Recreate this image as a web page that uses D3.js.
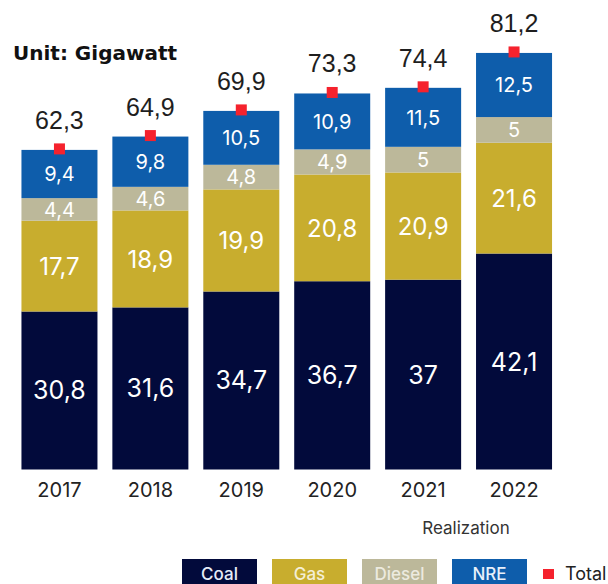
<!DOCTYPE html>
<html lang="en">
<head>
    <meta charset="UTF-8">
    <title>Installed capacity by source</title>
    <script src="https://d3js.org/d3.v7.min.js"></script>
    <style>
        body {
            margin: 0;
            background: #fff;
        }
        svg {
            font-family: Inter, "Open Sans", sans-serif;
        }
    </style>
</head>
<body>
    <script>
        // Data (Gigawatt)
        const years = ["2017", "2018", "2019", "2020", "2021", "2022"];
        const coal = [30.8, 31.6, 34.7, 36.7, 37, 42.1];
        const gas = [17.7, 18.9, 19.9, 20.8, 20.9, 21.6];
        const diesel = [4.4, 4.6, 4.8, 4.9, 5, 5];
        const nre = [9.4, 9.8, 10.5, 10.9, 11.5, 12.5];
        const totals = [62.3, 64.9, 69.9, 73.3, 74.4, 81.2];
        const seriesNames = ["Coal", "Gas", "Diesel", "NRE"];

        const width = 608, height = 584;

        const colors = {
            Coal: "#020a3b",
            Gas: "#c8ad2e",
            Diesel: "#bcb89a",
            NRE: "#0e5dab"
        };
        const labelSize = { Coal: 25, Gas: 24, Diesel: 20, NRE: 20 };
        const legendText = { Coal: "#e6ecf8", Gas: "#f4efd6", Diesel: "#eceadf", NRE: "#e8f0fa" };

        const rows = years.map((y, i) => ({
            year: y,
            Coal: coal[i], Gas: gas[i], Diesel: diesel[i], NRE: nre[i],
            total: totals[i]
        }));

        const locale = d3.formatLocale({ decimal: ",", thousands: ".", grouping: [3], currency: ["", ""] });
        const fmt = locale.format(".1~f");

        const svg = d3.select("body")
            .append("svg")
            .attr("width", width)
            .attr("height", height);

        const x = d3.scaleBand()
            .domain(years)
            .range([14, 559.5])
            .paddingInner(0.164)
            .paddingOuter(0.082);

        const y = d3.scaleLinear()
            .domain([0, 90])
            .range([469.5, 469.5 - 90 * 5.13]);

        const stacked = d3.stack().keys(seriesNames)(rows);

        // stacked bars
        const layers = svg.append("g")
            .selectAll("g")
            .data(stacked)
            .join("g")
            .attr("fill", d => colors[d.key]);

        layers.selectAll("rect")
            .data(d => d)
            .join("rect")
            .attr("x", d => x(d.data.year))
            .attr("width", x.bandwidth())
            .attr("y", d => y(d[1]))
            .attr("height", d => y(d[0]) - y(d[1]));

        // value labels inside segments
        svg.append("g")
            .selectAll("g")
            .data(stacked)
            .join("g")
            .attr("font-size", d => labelSize[d.key] + "px")
            .attr("fill", "#fff")
            .attr("text-anchor", "middle")
            .selectAll("text")
            .data(d => d)
            .join("text")
            .attr("x", d => x(d.data.year) + x.bandwidth() / 2)
            .attr("y", d => (y(d[0]) + y(d[1])) / 2)
            .attr("dy", "0.36em")
            .text(d => fmt(d[1] - d[0]));

        // total markers
        svg.append("g")
            .selectAll("rect")
            .data(rows)
            .join("rect")
            .attr("x", d => x(d.year) + x.bandwidth() / 2 - 5.5)
            .attr("y", d => y(d.total) - 6.5)
            .attr("width", 11)
            .attr("height", 11)
            .attr("fill", "#f5222d");

        svg.append("g")
            .attr("font-family", "'Liberation Sans', Arial, sans-serif")
            .attr("font-size", "25px")
            .attr("fill", "#1e1e1e")
            .attr("text-anchor", "middle")
            .selectAll("text")
            .data(rows)
            .join("text")
            .attr("x", d => x(d.year) + x.bandwidth() / 2)
            .attr("y", d => y(d.total) - 21)
            .text(d => fmt(d.total));

        // x axis labels
        const xAxis = svg.append("g")
            .attr("transform", `translate(0,${y(0)})`)
            .call(d3.axisBottom(x).tickSize(0).tickPadding(10));
        xAxis.select(".domain").remove();
        xAxis.selectAll("text")
            .attr("font-family", "Inter, sans-serif")
            .attr("font-size", "20px")
            .attr("fill", "#222")
            .attr("dy", "0.71em")
            .attr("y", 13);

        svg.append("text")
            .attr("x", 466)
            .attr("y", 534)
            .attr("text-anchor", "middle")
            .attr("font-size", "17px")
            .attr("fill", "#333")
            .text("Realization");

        // title
        svg.append("text")
            .attr("x", 13)
            .attr("y", 60)
            .attr("font-family", "'DejaVu Sans', sans-serif")
            .attr("font-size", "20px")
            .attr("font-weight", "bold")
            .attr("fill", "#111")
            .text("Unit: Gigawatt");

        // legend
        const legendX = d3.scalePoint()
            .domain(seriesNames)
            .range([182, 452]);

        const legend = svg.append("g");
        legend.selectAll("rect")
            .data(seriesNames)
            .join("rect")
            .attr("x", d => legendX(d))
            .attr("y", 559)
            .attr("width", 75)
            .attr("height", 30)
            .attr("fill", d => colors[d]);

        legend.selectAll("text")
            .data(seriesNames)
            .join("text")
            .attr("x", d => legendX(d) + 37.5)
            .attr("y", 580)
            .attr("text-anchor", "middle")
            .attr("font-size", "17px")
            .attr("font-weight", 500)
            .attr("fill", d => legendText[d])
            .text(d => d);

        legend.append("rect")
            .attr("x", 543)
            .attr("y", 569)
            .attr("width", 11)
            .attr("height", 10)
            .attr("fill", "#f5222d");

        legend.append("text")
            .attr("x", 565)
            .attr("y", 580)
            .attr("font-size", "18px")
            .attr("fill", "#222")
            .text("Total");
    </script>
</body>
</html>
